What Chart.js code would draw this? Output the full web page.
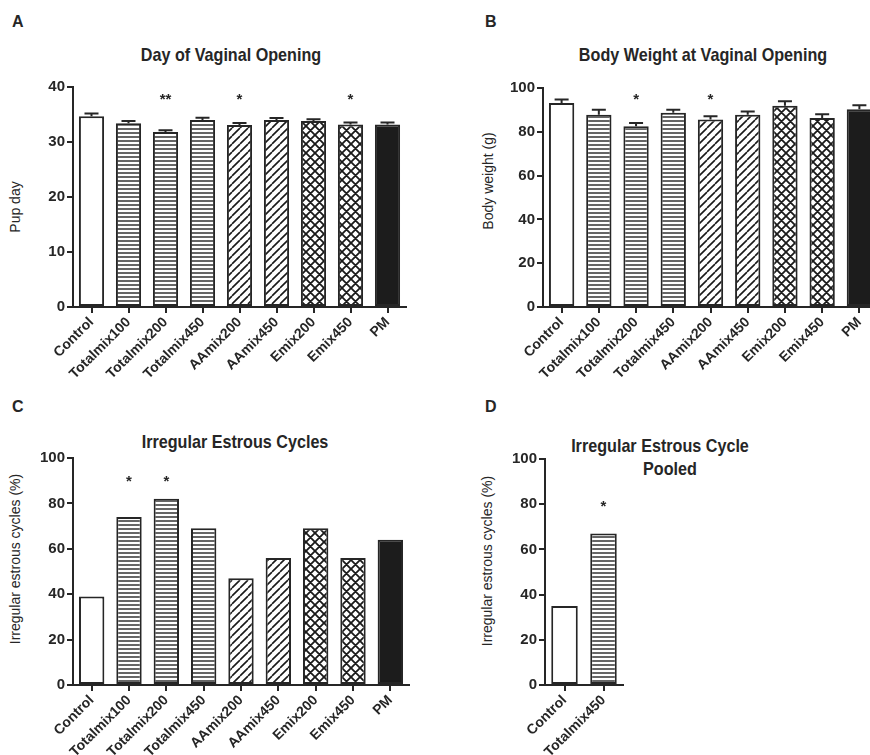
<!DOCTYPE html>
<html>
<head>
<meta charset="utf-8">
<script src="https://cdn.jsdelivr.net/npm/chart.js@4.4.1/dist/chart.umd.min.js"></script>
<style>
  html, body { margin: 0; padding: 0; background: #fff; overflow: hidden; }
  body { width: 870px; height: 755px; position: relative; }
  canvas { position: absolute; }
  .txt { position: absolute; white-space: nowrap; color: #262626; }
  .letter { font: bold 16px 'Liberation Sans', Arial, sans-serif; line-height: 16px; }
  .title { font: bold 19px 'Liberation Sans', Arial, sans-serif; line-height: 19px; width: 400px; text-align: center; transform: scaleX(0.85); }
  .ytitle { font: 14px 'Liberation Sans', Arial, sans-serif; line-height: 20px; width: 300px; height: 20px; text-align: center; transform: rotate(-90deg); }
</style>
</head>
<body>

<div class="txt letter" style="left:12px; top:14px;">A</div>
<div class="txt letter" style="left:485px; top:14px;">B</div>
<div class="txt letter" style="left:12px; top:399px;">C</div>
<div class="txt letter" style="left:485px; top:399px;">D</div>

<div class="txt title" style="left:31px; top:45px;">Day of Vaginal Opening</div>
<div class="txt title" style="left:503px; top:45px;">Body Weight at Vaginal Opening</div>
<div class="txt title" style="left:35px; top:432px;">Irregular Estrous Cycles</div>
<div class="txt title" style="left:460px; top:436px;">Irregular Estrous Cycle</div>
<div class="txt title" style="left:470px; top:459px;">Pooled</div>

<div class="txt ytitle" style="left:-135px; top:197px;">Pup day</div>
<div class="txt ytitle" style="left:338px; top:171px;">Body weight (g)</div>
<div class="txt ytitle" style="left:-135px; top:549px;">Irregular estrous cycles (%)</div>
<div class="txt ytitle" style="left:337px; top:551px;">Irregular estrous cycles (%)</div>

<canvas id="chartA" width="435" height="380" style="left:0px; top:0px;"></canvas>
<canvas id="chartB" width="460" height="380" style="left:435px; top:0px;"></canvas>
<canvas id="chartC" width="435" height="375" style="left:0px; top:380px;"></canvas>
<canvas id="chartD" width="435" height="375" style="left:435px; top:380px;"></canvas>

<script>
// groups on the x axis
const groups = ['Control', 'Totalmix100', 'Totalmix200', 'Totalmix450', 'AAmix200', 'AAmix450', 'Emix200', 'Emix450', 'PM'];
const pooledGroups = ['Control', 'Totalmix450'];

// A - day of vaginal opening (mean, sem)
const openingDay = [34.7, 33.4, 31.8, 34.0, 33.1, 34.0, 33.8, 33.2, 33.2];
const openingDaySem = [0.5, 0.4, 0.35, 0.4, 0.35, 0.35, 0.35, 0.35, 0.35];
const openingDaySig = ['', '', '**', '', '*', '', '', '*', ''];

// B - body weight at vaginal opening (mean, sem)
const openingWeight = [93.1, 87.8, 82.5, 88.7, 85.6, 87.8, 91.9, 86.3, 90.3];
const openingWeightSem = [1.7, 2.3, 1.5, 1.4, 1.5, 1.5, 2.0, 1.7, 1.8];
const openingWeightSig = ['', '', '*', '', '*', '', '', '', ''];

// C - irregular estrous cycles (%)
const irregular = [39, 74, 82, 69, 47, 56, 69, 56, 64];
const irregularSig = ['', '*', '*', '', '', '', '', '', ''];

// D - pooled
const pooled = [35, 67];
const pooledSig = ['', '*'];

const INK = '#262626';
const FONT = "'Liberation Sans', Arial, sans-serif";

function makePattern(kind) {
  const c = document.createElement('canvas');
  const g = c.getContext('2d');
  if (kind === 'hlines') {
    c.width = 4; c.height = 4;
    g.fillStyle = '#fff'; g.fillRect(0, 0, 4, 4);
    g.fillStyle = '#666'; g.fillRect(0, 0, 4, 2);
  } else {
    const n = kind === 'cross' ? 9 : 8;
    c.width = n; c.height = n;
    g.fillStyle = '#fff'; g.fillRect(0, 0, n, n);
    g.strokeStyle = '#1a1a1a'; g.lineWidth = kind === 'cross' ? 1.8 : 1.6;
    g.beginPath();
    for (const o of [-n, 0, n]) {
      g.moveTo(o, n); g.lineTo(o + n, 0);
      if (kind === 'cross') { g.moveTo(o, 0); g.lineTo(o + n, n); }
    }
    g.stroke();
  }
  return g.createPattern(c, 'repeat');
}

const fills = {
  hlines: makePattern('hlines'),
  diag: makePattern('diag'),
  cross: makePattern('cross')
};

function fillFor(name) {
  if (name.startsWith('Totalmix')) return fills.hlines;
  if (name.startsWith('AAmix')) return fills.diag;
  if (name.startsWith('Emix')) return fills.cross;
  if (name === 'PM') return '#1c1c1c';
  return '#fff';
}

// upper error bars (Prism style)
const errorBars = {
  id: 'errorBars',
  afterDatasetsDraw(chart, args, opts) {
    if (!opts.sem) return;
    const {ctx} = chart;
    const y = chart.scales.y;
    const meta = chart.getDatasetMeta(0);
    const values = chart.data.datasets[0].data;
    ctx.save();
    ctx.strokeStyle = INK;
    ctx.lineWidth = 2;
    meta.data.forEach((bar, i) => {
      const top = y.getPixelForValue(values[i] + opts.sem[i]);
      ctx.beginPath();
      ctx.moveTo(bar.x, bar.y);
      ctx.lineTo(bar.x, top);
      ctx.moveTo(bar.x - 7, top);
      ctx.lineTo(bar.x + 7, top);
      ctx.stroke();
    });
    ctx.restore();
  }
};

const sigMarks = {
  id: 'sigMarks',
  afterDatasetsDraw(chart, args, opts) {
    if (!opts.marks) return;
    const {ctx} = chart;
    const y = chart.scales.y.getPixelForValue(opts.level);
    const meta = chart.getDatasetMeta(0);
    ctx.save();
    ctx.font = 'bold 15px ' + FONT;
    ctx.fillStyle = INK;
    ctx.textAlign = 'center';
    ctx.textBaseline = 'alphabetic';
    meta.data.forEach((bar, i) => {
      const s = opts.marks[i];
      if (!s) return;
      const m = ctx.measureText(s);
      ctx.fillText(s, bar.x, y + (m.actualBoundingBoxAscent - m.actualBoundingBoxDescent) / 2);
    });
    ctx.restore();
  }
};

function barChart(id, labels, values, o) {
  return new Chart(document.getElementById(id), {
    type: 'bar',
    data: {
      labels: labels,
      datasets: [{
        data: values,
        backgroundColor: labels.map(fillFor),
        borderColor: INK,
        borderWidth: 2,
        borderSkipped: false,
        barPercentage: 0.68,
        categoryPercentage: 1
      }]
    },
    options: {
      responsive: false,
      animation: false,
      layout: { padding: o.padding },
      plugins: {
        legend: { display: false },
        tooltip: { enabled: false },
        title: { display: false },
        errorBars: { sem: o.sem },
        sigMarks: { marks: o.sig, level: o.sigLevel }
      },
      scales: {
        x: {
          grid: { offset: false, drawOnChartArea: false, tickLength: 6, lineWidth: 2, color: INK },
          border: { color: INK, width: 2, z: 1 },
          ticks: { autoSkip: false, minRotation: 45, maxRotation: 45, padding: 1, color: INK,
                   font: { family: FONT, size: 14, weight: 'bold' } },
          afterFit: s => { s.height = o.xHeight; }
        },
        y: {
          min: 0, max: o.max,
          grid: { drawOnChartArea: false, tickLength: 6, lineWidth: 2, color: INK },
          border: { color: INK, width: 2, z: 1 },
          ticks: { stepSize: o.step, padding: 2, color: INK,
                   font: { family: FONT, size: 15, weight: 'bold' } },
          afterFit: s => { s.width = o.yWidth; }
        }
      }
    },
    plugins: [errorBars, sigMarks]
  });
}

barChart('chartA', groups, openingDay, {
  padding: { left: 0, right: 29, top: 87, bottom: 0 },
  yWidth: 73, xHeight: 73, max: 40, step: 10,
  sem: openingDaySem, sig: openingDaySig, sigLevel: 38.2
});

barChart('chartB', groups, openingWeight, {
  padding: { left: 0, right: 17, top: 88, bottom: 0 },
  yWidth: 108, xHeight: 73, max: 100, step: 20,
  sem: openingWeightSem, sig: openingWeightSig, sigLevel: 95.7
});

barChart('chartC', groups, irregular, {
  padding: { left: 0, right: 26, top: 78, bottom: 0 },
  yWidth: 73, xHeight: 70, max: 100, step: 20,
  sig: irregularSig, sigLevel: 90.7
});

barChart('chartD', pooledGroups, pooled, {
  padding: { left: 0, right: 247, top: 79, bottom: 0 },
  yWidth: 110, xHeight: 70, max: 100, step: 20,
  sig: pooledSig, sigLevel: 80.2
});
</script>
</body>
</html>
